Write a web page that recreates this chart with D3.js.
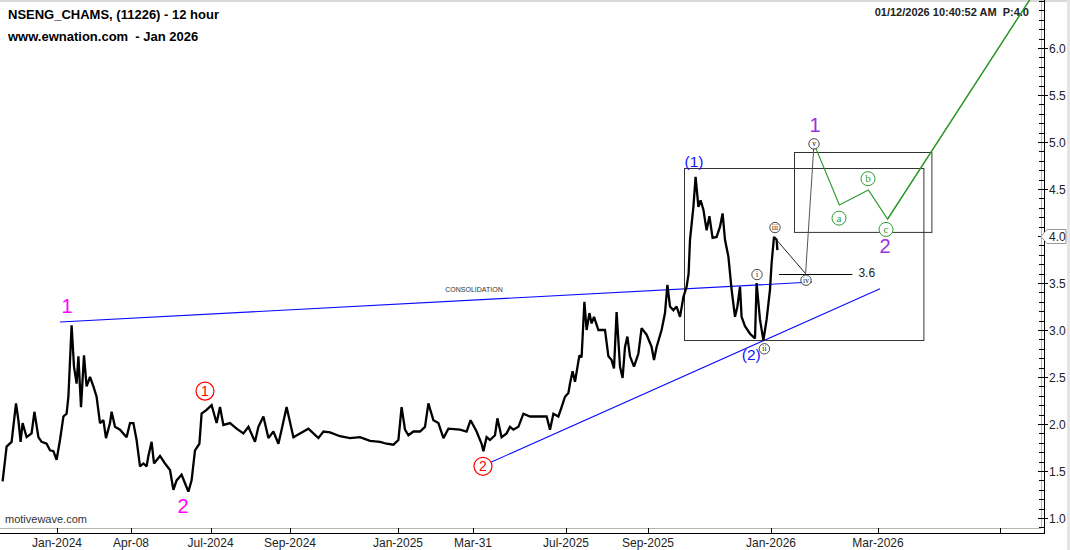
<!DOCTYPE html>
<html><head><meta charset="utf-8">
<script src="https://cdn.jsdelivr.net/npm/d3@7"></script>
<style>body{margin:0;background:#fff}svg{display:block;font-family:"Liberation Sans",Arial,sans-serif}</style>
</head><body><svg id="c" width="1070" height="550"></svg>
<script>
// ---- data ----
const priceSeries = [[1.3,1.39],[3.3,1.76],[5.8,1.81],[8,2.22],[9.2,2.04],[10.3,1.81],[11.3,2.01],[13.3,1.86],[15.8,1.90],[17.2,2.13],[19.2,1.86],[20.8,1.81],[23.3,1.79],[25,1.72],[26.7,1.71],[28.3,1.62],[30,1.83],[31.7,2.08],[33.3,2.11],[34.2,2.29],[35.8,3.05],[37,2.61],[38.3,2.43],[39.2,2.72],[40.5,2.18],[42,2.73],[43.3,2.40],[45,2.50],[46.7,2.40],[48.3,2.29],[50,2.01],[51.7,2.04],[53,1.85],[55,2.01],[55.8,2.13],[57.5,1.97],[60,1.94],[63.3,1.86],[65,2.01],[66.7,2.01],[68.3,1.83],[70,1.55],[71.7,1.58],[73.3,1.55],[74.2,1.66],[75.8,1.81],[77,1.58],[80,1.66],[82.5,1.58],[85,1.51],[86.7,1.30],[88.3,1.40],[90.8,1.46],[92.5,1.37],[94.2,1.28],[95.8,1.40],[97.5,1.72],[99.7,1.79],[100.8,2.11],[103.3,2.15],[105.8,2.20],[108.3,2.01],[110,2.18],[111.7,1.99],[115,2.01],[118.3,1.95],[121.7,1.90],[124.2,1.97],[127.5,1.81],[129.2,1.97],[131.7,2.08],[134.2,1.85],[136.7,1.92],[139.2,1.79],[140.8,1.94],[143.3,2.18],[146.7,1.86],[150,1.90],[154.2,1.95],[159.2,1.85],[161.7,1.92],[165,1.91],[170,1.87],[175,1.85],[180,1.86],[185,1.82],[190,1.81],[193.3,1.79],[196.7,1.78],[199.2,1.83],[200.8,2.18],[202.5,1.94],[204.2,1.88],[206.7,1.92],[210,1.92],[212.5,1.97],[214.2,2.22],[216.7,2.04],[219.2,2.01],[221.7,1.85],[224.2,1.95],[230,1.94],[233.3,1.92],[235.3,2.04],[238.3,1.92],[240.8,1.79],[241.7,1.71],[243.3,1.86],[245,1.83],[247.5,1.88],[248.7,2.06],[250.8,1.86],[253.3,1.90],[255,1.97],[256.7,1.94],[259.2,1.97],[261.7,2.11],[265,2.08],[270,2.08],[273.3,2.08],[275,1.94],[276.7,2.11],[279.2,2.08],[280.8,2.18],[282.5,2.29],[284.2,2.33],[285,2.43],[286.3,2.56],[287.5,2.45],[289.7,2.73],[290.8,2.71],[292.2,3.30],[293.3,3.00],[294.7,3.18],[295.8,3.07],[297,3.14],[299.2,3.00],[302.5,3.00],[304.2,2.72],[305.8,2.68],[307,2.59],[308.3,3.19],[310,2.61],[311.3,2.49],[312.5,2.82],[313.7,2.93],[315,2.72],[317,2.61],[319.2,2.75],[320.8,3.02],[323.3,2.95],[325.8,2.82],[327,2.68],[328.3,2.82],[330.8,3.00],[332.5,3.18],[333.7,3.48],[335,3.25],[336.7,3.21],[338.3,3.25],[340,3.14],[341.7,3.35],[343.3,3.46],[344.3,3.60],[345,3.96],[346.7,4.31],[347.8,4.63],[349.2,4.31],[350.3,4.38],[351.7,4.28],[353.3,4.06],[354.7,4.21],[356.3,3.98],[358.3,3.99],[360,4.10],[361.3,4.24],[362.5,3.96],[364.2,3.78],[365.8,3.43],[367.5,3.14],[368.7,3.25],[370,3.46],[370.8,3.14],[372.5,3.04],[375,2.96],[377.5,2.91],[378.3,3.50],[380,3.11],[381.7,2.89],[383.3,3.11],[385,3.43],[385.8,3.71],[387,3.99],[388.3,3.96],[388.7,3.85]];

const tickBars   = [28.5, 65.5, 105.3, 145, 199, 236.5, 283, 324, 385.5, 439, 500];
const tickLabels = ["Jan-2024","Apr-08","Jul-2024","Sep-2024","Jan-2025","Mar-31","Jul-2025","Sep-2025","Jan-2026","Mar-2026",""];
const yTickValues = [1.0,1.5,2.0,2.5,3.0,3.5,4.0,4.5,5.0,5.5,6.0];

const projBlack = [[387,3.99],[402.8,3.6]];
const projGray  = [[402.8,3.6],[407,4.98]];
const projGreen = [[407,4.98],[419.7,4.33],[434.2,4.49],[443.8,4.18],[517.5,6.6]];

const consolidationLine = [[30,3.085],[406,3.51]];
const supportLine = [[242,1.56],[440,3.44]];

const boxes = [[342,461.7,4.72,2.89],[397.2,465.9,4.89,4.04]];
const levelLine = [389.5,426.2,3.6];
const levelLabel = "3.6";

// labels: [bar, value, text]
const magentaLabels = [[33.5,3.26,"1"],[91.5,1.13,"2"]];
const redCircled = [[102.5,2.35,"1"],[241.5,1.55,"2"]];
const blueLabels = [[347,4.79,"(1)"],[375.6,2.74,"(2)"]];
const romanLabels = [[378.5,3.59,"i"],[382.2,2.80,"ii"],[387.5,4.09,"iii"],[403,3.53,"iv"],[407,4.98,"v"]];
const greenLabels = [[419.5,4.19,"a"],[434,4.61,"b"],[443,4.07,"c"]];
const purpleLabels = [[407.5,5.18,"1"],[442.5,3.89,"2"]];
const lastPrice = 4.0;

// ---- chart ----
const svg = d3.select("#c");
const plotW = 1041, plotH = 528;
const x = d3.scaleLinear().domain([0, 520.5]).range([0, plotW]);
const y = d3.scaleLinear().domain([1.0, 6.0]).range([518, 48]);

// window edges
svg.append("rect").attr("x",0).attr("y",0).attr("width",1070).attr("height",2).attr("fill","#d9d9d9");
svg.append("rect").attr("x",1067).attr("y",0).attr("width",3).attr("height",550).attr("fill","#e4e4e4");

svg.append("defs").append("clipPath").attr("id","clip").append("rect")
  .attr("x",0).attr("y",0).attr("width",plotW).attr("height",plotH);

// frame
svg.append("line").attr("x1",0).attr("x2",plotW).attr("y1",plotH+0.5).attr("y2",plotH+0.5).attr("stroke","#b4b4a8");
svg.append("line").attr("x1",plotW+0.5).attr("x2",plotW+0.5).attr("y1",0).attr("y2",plotH).attr("stroke","#b4b4a8");
svg.append("line").attr("x1",0).attr("x2",1045).attr("y1",533.5).attr("y2",533.5).attr("stroke","#000");
svg.append("line").attr("x1",1044.5).attr("x2",1044.5).attr("y1",0).attr("y2",534).attr("stroke","#000");

// y ticks
const minor = d3.range(9, 66).map(d => d/10).filter(v => y(v) >= 0 && y(v) <= plotH);
svg.selectAll(".ymt").data(minor).enter().append("line")
  .attr("x1",1039).attr("x2",1044).attr("y1",d=>Math.round(y(d))+0.5).attr("y2",d=>Math.round(y(d))+0.5).attr("stroke","#000");
svg.selectAll(".yMt").data(yTickValues).enter().append("line")
  .attr("x1",1038).attr("x2",1048).attr("y1",d=>Math.round(y(d))+0.5).attr("y2",d=>Math.round(y(d))+0.5).attr("stroke","#000");
svg.selectAll(".ytl").data(yTickValues.filter(v=>v!==lastPrice)).enter().append("text")
  .attr("x",1049).attr("y",d=>y(d)+4.5).attr("font-size",12).attr("fill","#222").text(d=>d.toFixed(1));

// last price marker
{
  const yy = Math.round(y(lastPrice))+0.5;
  svg.append("path").attr("d",`M1041,${yy} L1047,${yy-7} L1066,${yy-7} L1066,${yy+7} L1047,${yy+7} Z`)
    .attr("fill","#fff").attr("stroke","#999");
  svg.append("text").attr("x",1049).attr("y",yy+4.5).attr("font-size",12).attr("fill","#222").text(lastPrice.toFixed(1));
}

// x ticks
svg.selectAll(".xt").data(tickBars).enter().append("line")
  .attr("x1",d=>Math.round(x(d))+0.5).attr("x2",d=>Math.round(x(d))+0.5).attr("y1",plotH).attr("y2",534).attr("stroke","#000");
svg.selectAll(".xtl").data(tickBars).enter().append("text")
  .attr("x",d=>x(d)).attr("y",547).attr("text-anchor","middle").attr("font-size",12).attr("fill","#222")
  .text((d,i)=>tickLabels[i]);

const g = svg.append("g").attr("clip-path","url(#clip)");
const line = d3.line().x(d=>x(d[0])).y(d=>y(d[1]));

// trend lines
g.append("path").attr("d",line(consolidationLine)).attr("fill","none").attr("stroke","#0a0aff").attr("stroke-width",1.1);
g.append("path").attr("d",line(supportLine)).attr("fill","none").attr("stroke","#0a0aff").attr("stroke-width",1.1);

// boxes
boxes.forEach(b=>{
  g.append("rect").attr("x",Math.round(x(b[0]))+0.5).attr("y",Math.round(y(b[2]))+0.5)
   .attr("width",x(b[1])-x(b[0])).attr("height",y(b[3])-y(b[2]))
   .attr("fill","none").attr("stroke","#333").attr("stroke-width",1);
});

// price
g.append("path").attr("d",line(priceSeries)).attr("fill","none").attr("stroke","#000").attr("stroke-width",2.3).attr("stroke-linejoin","miter").attr("stroke-miterlimit",2);

// projection
g.append("path").attr("d",line(projBlack)).attr("fill","none").attr("stroke","#222").attr("stroke-width",1);
g.append("path").attr("d",line(projGray)).attr("fill","none").attr("stroke","#555").attr("stroke-width",1);
g.append("path").attr("d",line(projGreen)).attr("fill","none").attr("stroke","#2f9a2f").attr("stroke-width",1.2);

// level line
g.append("line").attr("x1",x(levelLine[0])).attr("x2",x(levelLine[1]))
  .attr("y1",Math.round(y(levelLine[2]))+0.5).attr("y2",Math.round(y(levelLine[2]))+0.5).attr("stroke","#000");
g.append("text").attr("x",x(levelLine[1])+6).attr("y",y(levelLine[2])+3).attr("font-size",12).attr("fill","#222").text(levelLabel);

// consolidation text
g.append("text").attr("x",x(237)).attr("y",y(3.43)+2.5).attr("text-anchor","middle").attr("font-size",7).attr("fill","#333").text("CONSOLIDATION");

// magenta labels
magentaLabels.forEach(d=>{
  g.append("text").attr("x",x(d[0])).attr("y",y(d[1])+7).attr("text-anchor","middle")
   .attr("font-size",20).attr("fill","#ff00ff").text(d[2]);
});
// red circled
redCircled.forEach(d=>{
  g.append("circle").attr("cx",x(d[0])).attr("cy",y(d[1])).attr("r",9).attr("fill","#fff").attr("stroke","#ff0000").attr("stroke-width",1.2);
  g.append("text").attr("x",x(d[0])).attr("y",y(d[1])+5).attr("text-anchor","middle").attr("font-size",14).attr("fill","#ff0000").text(d[2]);
});
// blue labels
blueLabels.forEach(d=>{
  g.append("text").attr("x",x(d[0])).attr("y",y(d[1])+5.5).attr("text-anchor","middle")
   .attr("font-size",15.5).attr("fill","#1414ff").text(d[2]);
});
// roman circled
romanLabels.forEach(d=>{
  g.append("circle").attr("cx",x(d[0])).attr("cy",y(d[1])).attr("r",5.2).attr("fill","#fff").attr("stroke","#333").attr("stroke-width",0.9);
  g.append("text").attr("x",x(d[0])).attr("y",y(d[1])+2.4).attr("text-anchor","middle").attr("font-family","'Liberation Serif',serif")
   .attr("font-size",7.5).attr("fill","#111").text(d[2]);
});
// green circled
greenLabels.forEach(d=>{
  g.append("circle").attr("cx",x(d[0])).attr("cy",y(d[1])).attr("r",7).attr("fill","#fff").attr("stroke","#2f9a2f").attr("stroke-width",1);
  g.append("text").attr("x",x(d[0])).attr("y",y(d[1])+3.5).attr("text-anchor","middle").attr("font-family","'Liberation Serif',serif")
   .attr("font-size",11).attr("fill","#2f9a2f").text(d[2]);
});
// purple
purpleLabels.forEach(d=>{
  g.append("text").attr("x",x(d[0])).attr("y",y(d[1])+7).attr("text-anchor","middle")
   .attr("font-size",20).attr("fill","#9b30e0").text(d[2]);
});

// header texts
svg.append("text").attr("x",8).attr("y",19).attr("font-size",13).attr("font-weight","bold").attr("fill","#000").text("NSENG_CHAMS, (11226) - 12 hour");
svg.append("text").attr("x",8).attr("y",41).attr("font-size",13).attr("font-weight","bold").attr("fill","#000").attr("xml:space","preserve").text("www.ewnation.com  - Jan 2026");
svg.append("text").attr("x",1029).attr("y",16).attr("text-anchor","end").attr("font-size",11).attr("font-weight","bold").attr("fill","#222").attr("xml:space","preserve").text("01/12/2026 10:40:52 AM  P:4.0");
svg.append("text").attr("x",5).attr("y",523).attr("font-size",11).attr("fill","#333").text("motivewave.com");

// green line drawn over header (as in reference)
svg.append("g").attr("clip-path","url(#clip)").append("path").attr("d",line(projGreen.slice(3))).attr("fill","none").attr("stroke","#2f9a2f").attr("stroke-width",1.2);
</script></body></html>
